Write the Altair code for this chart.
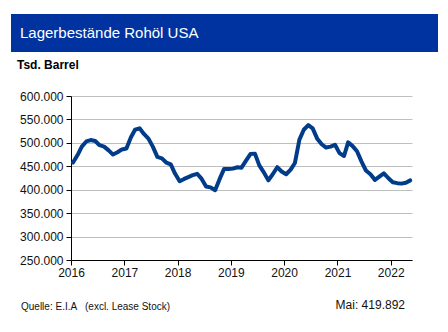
import altair as alt
import pandas as pd

months = pd.date_range("2016-01-01", periods=77, freq="MS") + pd.Timedelta(days=14)
stocks = [
    458, 474, 492, 503, 506, 504, 495, 492, 484, 475, 480, 486,
    488, 512, 528, 531, 519, 509, 492, 470, 467, 458, 454, 434,
    418, 423, 427, 431, 434, 423, 407, 405, 399, 422, 444, 444,
    445, 448, 447, 462, 476, 477, 452, 437, 420, 433, 448, 439,
    433, 443, 457, 507, 528, 538, 531, 509, 497, 490, 492, 496,
    478, 472, 501, 493, 482, 460, 441, 433, 421, 428, 435, 425,
    416, 414, 413, 415, 419.892,
]
values = [v * 1000 for v in stocks]

title_text = "Lagerbestände Rohöl USA"
unit_text = "Tsd. Barrel"
source_text = "Quelle: E.I.A"
source_note = "(excl. Lease Stock)"
last_text = "Mai: 419.892"

df = pd.DataFrame({"date": months, "value": values})

FONT = "Liberation Sans"

line = alt.Chart(df).mark_line(color="#003C8A", strokeWidth=4, strokeJoin="round", strokeCap="round").encode(
    x=alt.X("date:T",
            scale=alt.Scale(domain=["2016-01-01", "2022-05-27"]),
            axis=alt.Axis(title=None, format="%Y", tickCount={"interval": "year", "step": 1},
                          grid=False, domainColor="#000000", tickColor="#000000", tickSize=5,
                          labelFontSize=12, labelColor="#111111", labelFont=FONT, labelPadding=2,
                          labelAlign="center", labelFlush=False)),
    y=alt.Y("value:Q",
            scale=alt.Scale(domain=[250000, 600000], nice=False, zero=False),
            axis=alt.Axis(title=None, values=list(range(250000, 600001, 50000)),
                          labelExpr="replace(format(datum.value, ','), ',', '.')",
                          grid=True, gridColor="#bfbfbf", gridWidth=1,
                          domainColor="#000000", tickColor="#000000", tickSize=5,
                          labelFontSize=12, labelColor="#111111", labelFont=FONT, labelPadding=3,
                          labelFlush=False)),
)

bar = alt.Chart(pd.DataFrame({"t": [title_text]})).mark_rect(color="#0033A0").encode(
    x=alt.value(-60), x2=alt.value(367), y=alt.value(-82), y2=alt.value(-44)
)
title = alt.Chart(pd.DataFrame({"t": [title_text]})).mark_text(
    align="left", baseline="alphabetic", color="white", fontSize=15, font=FONT
).encode(x=alt.value(-51), y=alt.value(-58), text="t:N")

unit = alt.Chart(pd.DataFrame({"t": [unit_text]})).mark_text(
    align="left", baseline="alphabetic", color="#000000", fontSize=12, fontWeight="bold", font=FONT
).encode(x=alt.value(-54), y=alt.value(-27), text="t:N")

src = alt.Chart(pd.DataFrame({"t": [source_text]})).mark_text(
    align="left", baseline="alphabetic", color="#111111", fontSize=10, font=FONT
).encode(x=alt.value(-50), y=alt.value(214), text="t:N")
src2 = alt.Chart(pd.DataFrame({"t": [source_note]})).mark_text(
    align="left", baseline="alphabetic", color="#111111", fontSize=10, font=FONT
).encode(x=alt.value(14), y=alt.value(214), text="t:N")
last = alt.Chart(pd.DataFrame({"t": [last_text]})).mark_text(
    align="right", baseline="alphabetic", color="#111111", fontSize=12, font=FONT
).encode(x=alt.value(334), y=alt.value(213), text="t:N")

chart = alt.layer(bar, title, unit, line, src, src2, last).properties(
    width=341, height=164,
    autosize=alt.AutoSizeParams(type="none"),
    padding={"left": 71, "top": 96, "right": 36, "bottom": 72},
    background="white",
).configure_view(stroke=None)

chart.save("out.html", embed_options={"renderer": "svg", "actions": False})
